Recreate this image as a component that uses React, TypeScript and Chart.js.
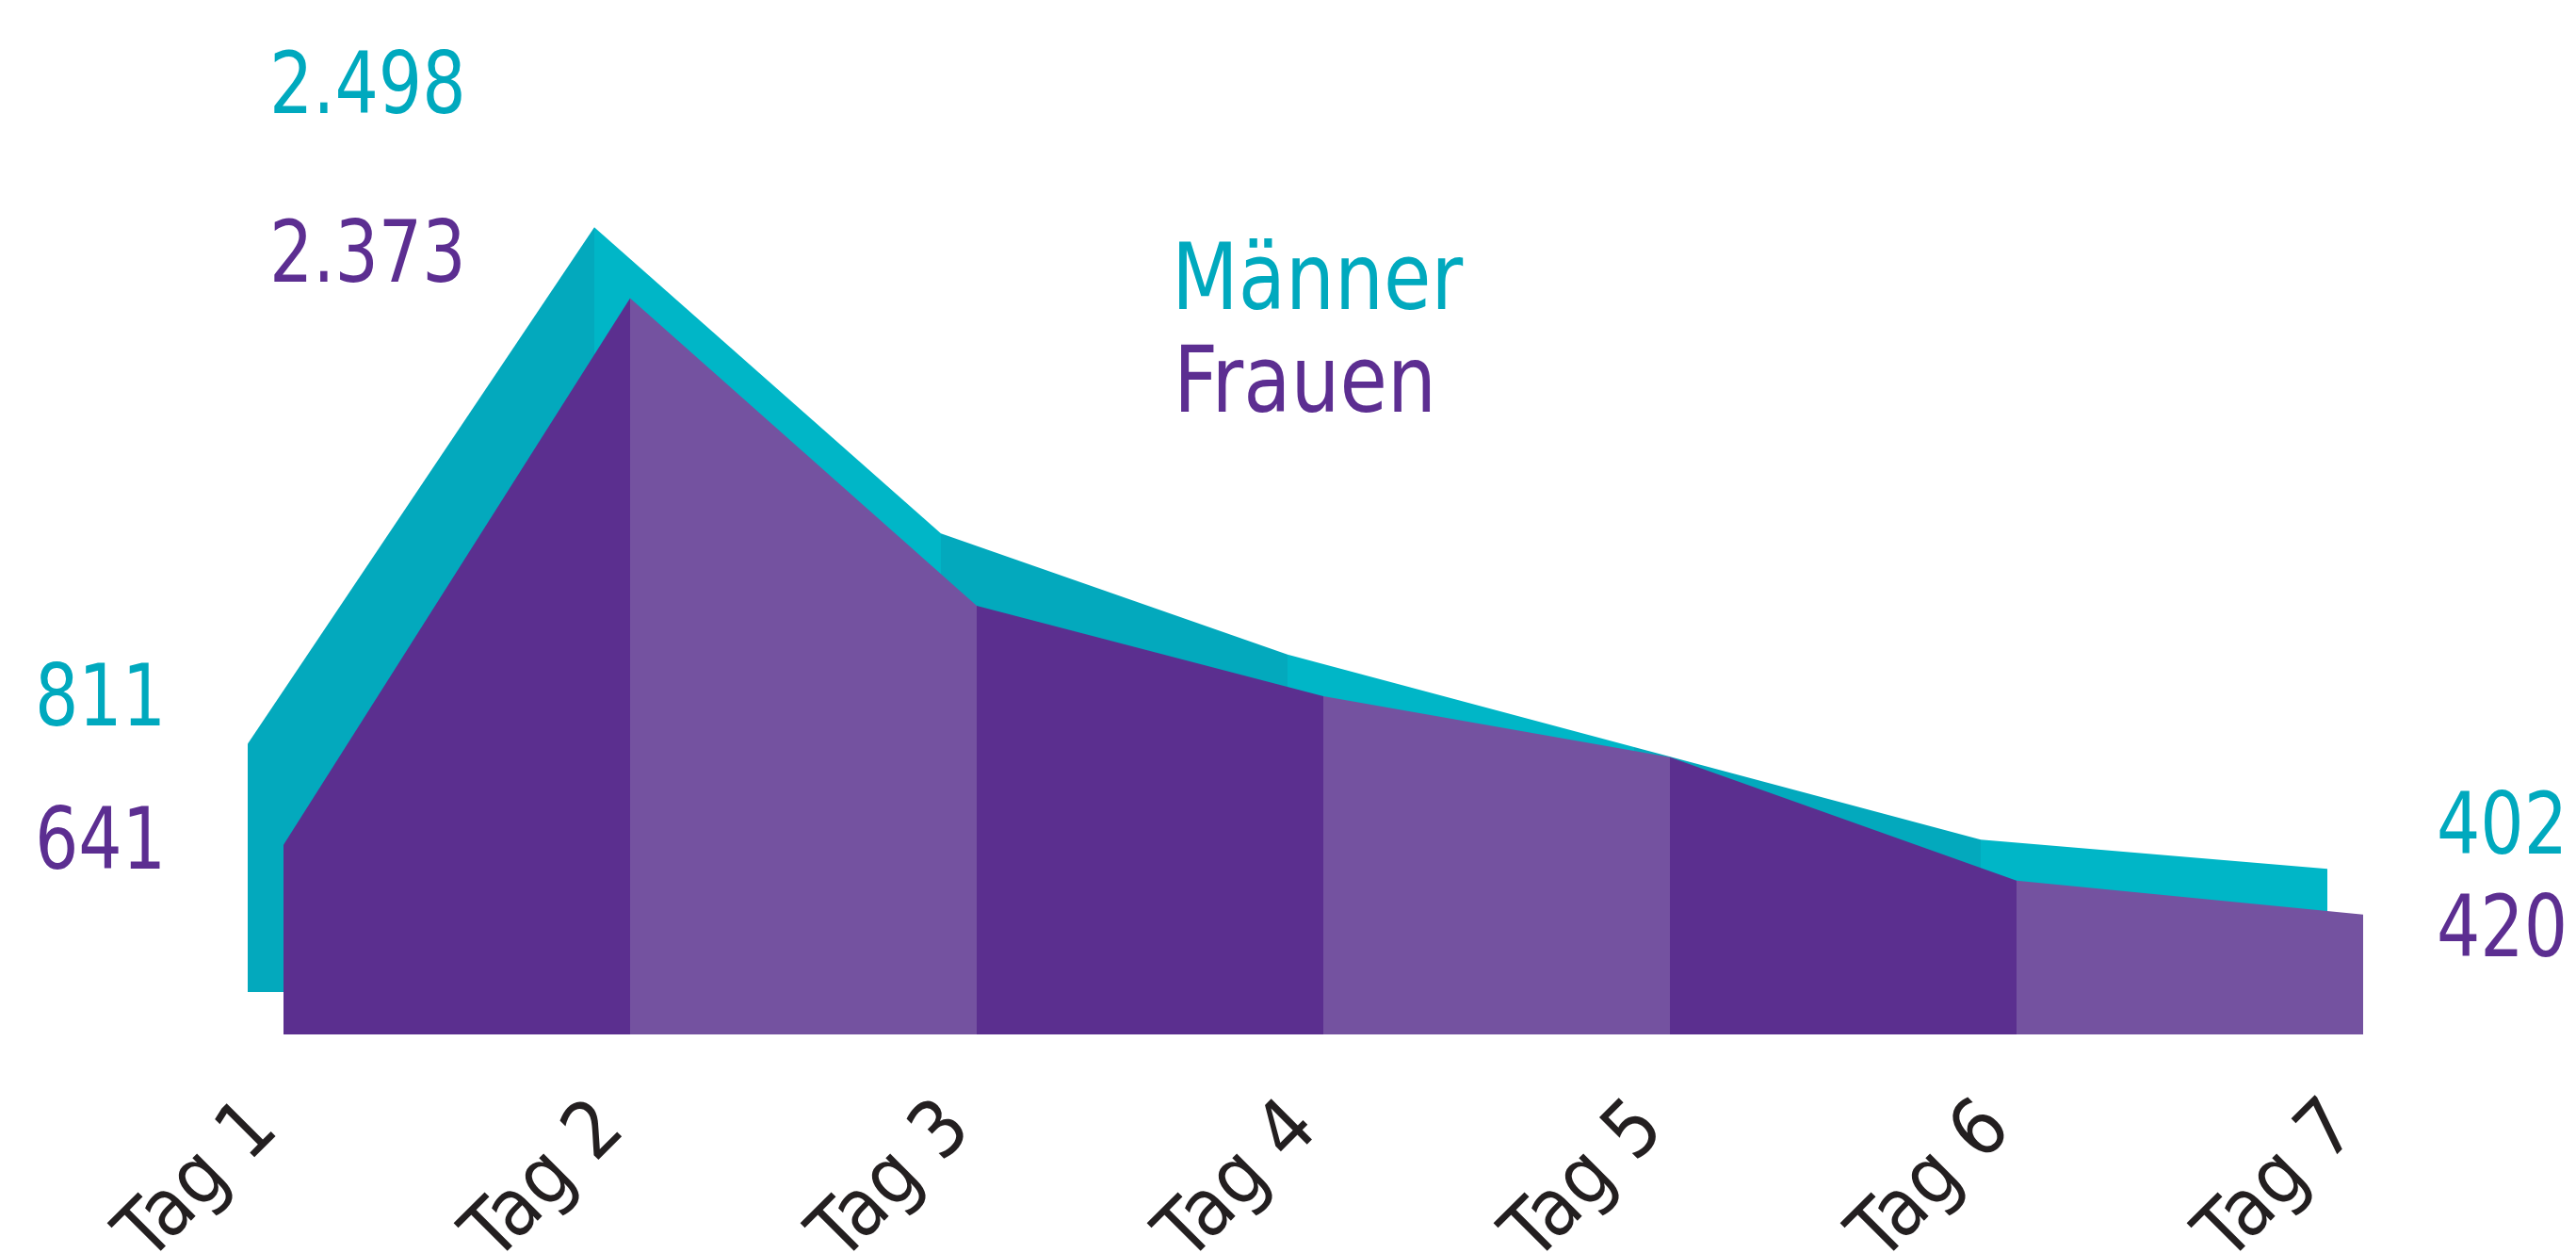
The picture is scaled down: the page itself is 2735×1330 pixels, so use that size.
import React, { useEffect, useRef } from "react";
import { Chart, registerables } from "chart.js";

Chart.register(...registerables);

// ---- data ----
const days = ["Tag 1", "Tag 2", "Tag 3", "Tag 4", "Tag 5", "Tag 6", "Tag 7"];
const seriesNames = ["Männer", "Frauen"];
const maenner = [811, 2498, 1498, 1102, 800, 498, 402];
const frauen = [641, 2373, 1398, 1112, 918, 527, 420];

// ---- styles ----
const FONT = "'DejaVu Sans Condensed', 'DejaVu Sans', sans-serif";
const TEAL_DARK = "#03a9bd";
const TEAL_LIGHT = "#00b6c7";
const PURPLE_DARK = "#5b2f8f";
const PURPLE_LIGHT = "#7452a0";
const TEAL_TEXT = "#00a9be";
const PURPLE_TEXT = "#5c2e91";
const TICK_TEXT = "#231f20";

const W = 2735;
const H = 1330;
const AREA_LEFT = 263;
const AREA_RIGHT = 2510;
const AREA_TOP = 200;
const AREA_BOTTOM = 1098;
const STEP = 368; // px per day
const SHIFT_X = 38; // teal offset to the left
const SHIFT_Y = 45; // teal offset upward
const PURPLE_PX_PER_UNIT = 0.335;
const PURPLE_MIN = 40;
const TEAL_PX_PER_UNIT = 0.325;

const fmt = (v: number) => String(v).replace(/\B(?=(\d{3})+(?!\d))/g, ".");

function drawText(ctx: CanvasRenderingContext2D, t: string, x: number, y: number, sx: number) {
  ctx.save();
  ctx.translate(x, y);
  ctx.scale(sx, 1);
  ctx.fillText(t, 0, 0);
  ctx.restore();
}

const textPlugin = {
  id: "annotText",
  afterDraw(chart: any) {
    const ctx = chart.ctx as CanvasRenderingContext2D;
    ctx.save();
    ctx.textBaseline = "alphabetic";
    ctx.textAlign = "left";
    const peakIdx = 1;
    const last = days.length - 1;
    const NUM_SX = 0.9;
    ctx.font = `90px ${FONT}`;
    ctx.fillStyle = TEAL_TEXT;
    drawText(ctx, fmt(maenner[peakIdx]), 286, 120, NUM_SX);
    drawText(ctx, fmt(maenner[0]), 37, 770, NUM_SX);
    drawText(ctx, fmt(maenner[last]), 2587, 906, NUM_SX);
    ctx.fillStyle = PURPLE_TEXT;
    drawText(ctx, fmt(frauen[peakIdx]), 286, 299, NUM_SX);
    drawText(ctx, fmt(frauen[0]), 37, 922, NUM_SX);
    drawText(ctx, fmt(frauen[last]), 2587, 1015, NUM_SX);
    ctx.font = `98px ${FONT}`;
    ctx.fillStyle = TEAL_TEXT;
    drawText(ctx, seriesNames[0], 1244, 328, 0.93);
    ctx.fillStyle = PURPLE_TEXT;
    drawText(ctx, seriesNames[1], 1246, 437, 0.93);
    ctx.restore();
  },
};

export default function App() {
  const ref = useRef<HTMLCanvasElement | null>(null);

  useEffect(() => {
    if (!ref.current) return;
    const areaW = AREA_RIGHT - AREA_LEFT;
    const areaH = AREA_BOTTOM - AREA_TOP;
    const xSpan = areaW / STEP;
    const xMinF = -SHIFT_X / STEP;
    const ySpanP = areaH / PURPLE_PX_PER_UNIT;
    const ySpanT = areaH / TEAL_PX_PER_UNIT;
    const y2Min = -SHIFT_Y / TEAL_PX_PER_UNIT;

    const chart = new Chart(ref.current, {
      type: "line",
      data: {
        datasets: [
          {
            label: seriesNames[1],
            data: frauen.map((v, i) => ({ x: i, y: v })),
            xAxisID: "x",
            yAxisID: "y",
            fill: "start",
            backgroundColor: PURPLE_DARK,
            borderColor: "rgba(0,0,0,0)",
            borderWidth: 0,
            pointRadius: 0,
            tension: 0,
            order: 0,
            segment: {
              backgroundColor: (c: any) => (c.p0DataIndex % 2 === 0 ? PURPLE_DARK : PURPLE_LIGHT),
            },
          },
          {
            label: seriesNames[0],
            data: maenner.map((v, i) => ({ x: i, y: v })),
            xAxisID: "x2",
            yAxisID: "y2",
            fill: "origin",
            backgroundColor: TEAL_DARK,
            borderColor: "rgba(0,0,0,0)",
            borderWidth: 0,
            pointRadius: 0,
            tension: 0,
            order: 1,
            segment: {
              backgroundColor: (c: any) => (c.p0DataIndex % 2 === 0 ? TEAL_DARK : TEAL_LIGHT),
            },
          },
        ],
      },
      options: {
        responsive: false,
        animation: false,
        devicePixelRatio: 1,
        layout: {
          padding: { left: AREA_LEFT, right: W - AREA_RIGHT, top: AREA_TOP, bottom: 0 },
        },
        plugins: {
          legend: { display: false },
          tooltip: { enabled: false },
        },
        scales: {
          x: {
            type: "linear",
            position: "bottom",
            min: xMinF,
            max: xMinF + xSpan,
            grid: { display: false, drawTicks: false },
            border: { display: false },
            afterBuildTicks: (axis: any) => {
              axis.ticks = days.map((_, i) => ({ value: i }));
            },
            afterFit: (scale: any) => {
              scale.height = H - AREA_BOTTOM;
            },
            ticks: {
              autoSkip: false,
              minRotation: 45,
              maxRotation: 45,
              padding: 52,
              labelOffset: -19,
              color: TICK_TEXT,
              font: { family: FONT, size: 84 },
              callback: (_v: any, i: number) => days[i],
            },
          },
          x2: {
            type: "linear",
            display: false,
            min: 0,
            max: xSpan,
          },
          y: {
            type: "linear",
            display: false,
            min: PURPLE_MIN,
            max: PURPLE_MIN + ySpanP,
          },
          y2: {
            type: "linear",
            display: false,
            min: y2Min,
            max: y2Min + ySpanT,
          },
        },
      },
      plugins: [textPlugin],
    });
    return () => chart.destroy();
  }, []);

  return (
    <div style={{ position: "fixed", left: 0, top: 0, width: W, height: H, background: "#ffffff" }}>
      <canvas ref={ref} width={W} height={H} style={{ width: W, height: H, display: "block" }} />
    </div>
  );
}
